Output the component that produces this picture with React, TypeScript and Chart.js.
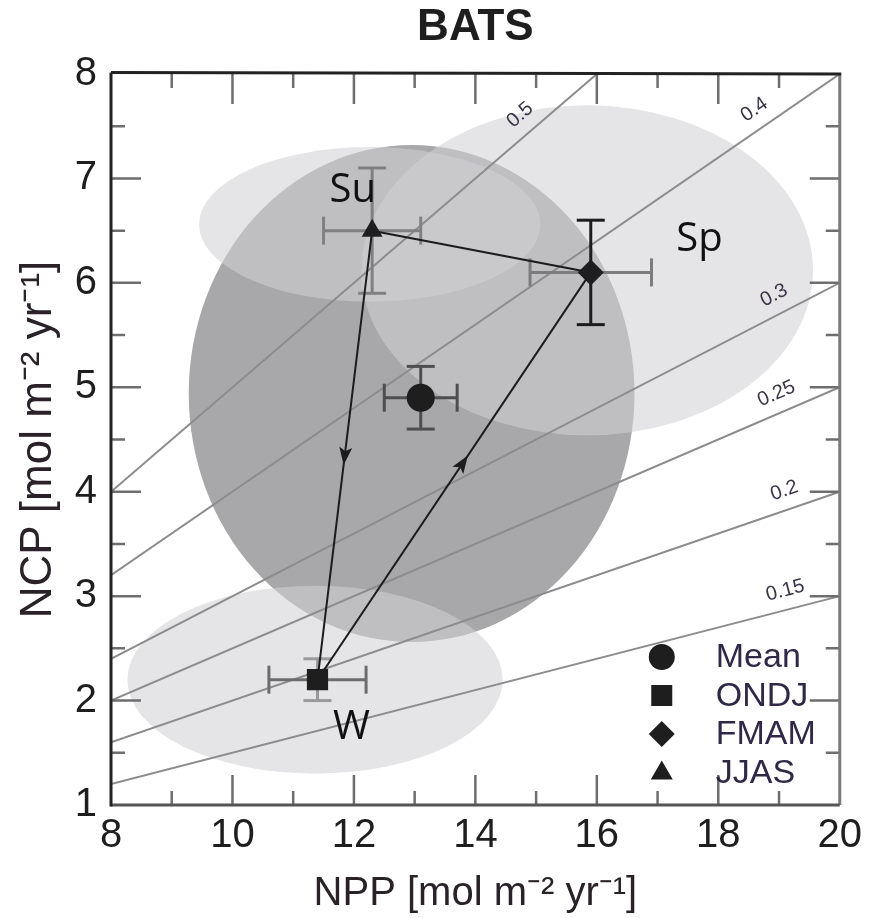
import React, { useEffect, useRef } from "react";
import { Chart, registerables } from "chart.js";

Chart.register(...registerables);

// ---------- data ----------
const seriesNames = ["Mean", "ONDJ", "FMAM", "JJAS"];
const nppValues = [13.1, 11.4, 15.9, 12.3];
const ncpValues = [4.9, 2.2, 6.1, 6.5];
const nppErrors = [0.6, 0.8, 1.0, 0.8];
const ncpErrors = [0.3, 0.2, 0.5, 0.6];
const pointStyles = ["circle", "rect", "rectRot", "triangle"];
// seasonal cycle: JJAS -> ONDJ -> FMAM -> JJAS (indices into the series)
const seasonalCycle = [3, 1, 2, 3];

const ratioValues = [0.5, 0.4, 0.3, 0.25, 0.2, 0.15];
const ratioLabels = ["0.5", "0.4", "0.3", "0.25", "0.2", "0.15"];
const ratioLabelNpp = [14.94, 18.77, 19.06, 19.08, 19.19, 19.18];

// shaded variability regions (centre and half-extent in data units)
const regionNames = ["Mean", "W", "Sp", "Su"];
const regionNpp = [12.95, 11.36, 15.84, 12.26];
const regionNcp = [4.94, 2.2, 6.12, 6.56];
const regionNppSpread = [3.67, 3.09, 3.72, 2.81];
const regionNcpSpread = [2.38, 0.9, 1.58, 0.74];

const regionLabelText = ["Su", "Sp", "W"];
const regionLabelNpp = [11.98, 17.69, 11.96];
const regionLabelNcp = [6.88, 6.41, 1.74];

const xMin = 8, xMax = 20, xStep = 2;
const yMin = 1, yMax = 8, yStep = 1;

// ---------- styles ----------
const FONT = "'Liberation Sans', Arial, Helvetica, sans-serif";
const LABEL_FONT = "'Open Sans', 'Liberation Sans', sans-serif";
const pointSizes = [14, 15, 13, 12];
const errColorX = ["#4e4e4e", "#6c6c6c", "#7c7c7c", "#808080"];
const errColorY = ["#4e4e4e", "#9a9a9a", "#1c1c1c", "#808080"];

const decorPlugin = {
  id: "decor",
  beforeDatasetsDraw(chart: any) {
    const { ctx, chartArea: a, scales } = chart;
    const x = scales.x, y = scales.y;
    ctx.save();
    ctx.beginPath();
    ctx.rect(a.left, a.top, a.right - a.left, a.bottom - a.top);
    ctx.clip();
    regionNames.forEach((_n, i) => {
      const cx = x.getPixelForValue(regionNpp[i]);
      const cy = y.getPixelForValue(regionNcp[i]);
      const rx = Math.abs(x.getPixelForValue(regionNpp[i] + regionNppSpread[i]) - cx);
      const ry = Math.abs(y.getPixelForValue(regionNcp[i] + regionNcpSpread[i]) - cy);
      ctx.beginPath();
      ctx.ellipse(cx, cy, rx, ry, 0, 0, Math.PI * 2);
      ctx.fillStyle = i === 0 ? "#a8a8ab" : "rgba(209,209,212,0.56)";
      ctx.fill();
    });
    ctx.restore();
  },
  beforeDatasetDraw(chart: any, args: any) {
    if (args.index !== ratioValues.length) return;
    const { ctx, scales } = chart;
    const x = scales.x, y = scales.y;
    ctx.save();
    ctx.lineWidth = 3;
    const cap = 14;
    const seg = (x0: number, y0: number, x1: number, y1: number) => {
      ctx.beginPath();
      ctx.moveTo(x0, y0);
      ctx.lineTo(x1, y1);
      ctx.stroke();
    };
    seriesNames.forEach((_s, i) => {
      const px = x.getPixelForValue(nppValues[i]);
      const py = y.getPixelForValue(ncpValues[i]);
      const xa = x.getPixelForValue(nppValues[i] - nppErrors[i]);
      const xb = x.getPixelForValue(nppValues[i] + nppErrors[i]);
      const ya = y.getPixelForValue(ncpValues[i] - ncpErrors[i]);
      const yb = y.getPixelForValue(ncpValues[i] + ncpErrors[i]);
      ctx.strokeStyle = errColorX[i];
      seg(xa, py, xb, py);
      seg(xa, py - cap, xa, py + cap);
      seg(xb, py - cap, xb, py + cap);
      ctx.strokeStyle = errColorY[i];
      seg(px, ya, px, yb);
      seg(px - cap, ya, px + cap, ya);
      seg(px - cap, yb, px + cap, yb);
    });
    ctx.restore();
  },
  afterDatasetDraw(chart: any, args: any) {
    if (args.index !== ratioValues.length) return;
    const { ctx, scales } = chart;
    const x = scales.x, y = scales.y;
    const arrowAt = [0.5, 0.53];
    ctx.save();
    ctx.fillStyle = "#1c1c1c";
    arrowAt.forEach((t, k) => {
      const a = seasonalCycle[k], b = seasonalCycle[k + 1];
      const ax = x.getPixelForValue(nppValues[a]), ay = y.getPixelForValue(ncpValues[a]);
      const bx = x.getPixelForValue(nppValues[b]), by = y.getPixelForValue(ncpValues[b]);
      const len = Math.hypot(bx - ax, by - ay);
      const dx = (bx - ax) / len, dy = (by - ay) / len;
      const mx = ax + (bx - ax) * t, my = ay + (by - ay) * t;
      const nx = -dy, ny = dx;
      ctx.beginPath();
      ctx.moveTo(mx + dx * 10, my + dy * 10);
      ctx.lineTo(mx - dx * 8 + nx * 6.5, my - dy * 8 + ny * 6.5);
      ctx.lineTo(mx - dx * 4, my - dy * 4);
      ctx.lineTo(mx - dx * 8 - nx * 6.5, my - dy * 8 - ny * 6.5);
      ctx.closePath();
      ctx.fill();
    });
    ctx.restore();
  },
  afterDatasetsDraw(chart: any) {
    const { ctx, scales } = chart;
    const x = scales.x, y = scales.y;
    ctx.save();
    // ratio labels
    ctx.font = `20px ${FONT}`;
    ctx.fillStyle = "#3b3347";
    ctx.textAlign = "center";
    ctx.textBaseline = "middle";
    ratioValues.forEach((r, i) => {
      const p0x = x.getPixelForValue(xMin), p0y = y.getPixelForValue(xMin * r);
      const p1x = x.getPixelForValue(xMax), p1y = y.getPixelForValue(xMax * r);
      const th = Math.atan2(p1y - p0y, p1x - p0x);
      const lx = x.getPixelForValue(ratioLabelNpp[i]);
      const ly = y.getPixelForValue(ratioLabelNpp[i] * r);
      const off = 19;
      const cx = lx + Math.sin(th) * off, cy = ly - Math.cos(th) * off;
      ctx.save();
      ctx.translate(cx, cy);
      ctx.rotate(th);
      ctx.fillText(ratioLabels[i], 0, 0);
      ctx.restore();
    });
    // region labels
    ctx.font = `40px ${LABEL_FONT}`;
    ctx.fillStyle = "#111";
    regionLabelText.forEach((t, i) => {
      ctx.fillText(t, x.getPixelForValue(regionLabelNpp[i]), y.getPixelForValue(regionLabelNcp[i]));
    });
    ctx.restore();
  },
  afterDraw(chart: any) {
    const { ctx, chartArea: a, scales } = chart;
    const x = scales.x, y = scales.y;
    ctx.save();
    // inward ticks
    ctx.lineWidth = 2.5;
    ctx.strokeStyle = "#6e6e6e";
    for (let v = xMin + 1; v < xMax; v += 1) {
      const px = x.getPixelForValue(v);
      const L = v % 2 === 0 ? 30 : 14;
      ctx.beginPath();
      ctx.moveTo(px, a.top); ctx.lineTo(px, a.top + L);
      ctx.moveTo(px, a.bottom); ctx.lineTo(px, a.bottom - L);
      ctx.stroke();
    }
    for (let v = yMin + 0.5; v < yMax; v += 0.5) {
      const py = y.getPixelForValue(v);
      const L = Number.isInteger(v) ? 30 : 14;
      ctx.beginPath();
      ctx.moveTo(a.left, py); ctx.lineTo(a.left + L, py);
      ctx.moveTo(a.right, py); ctx.lineTo(a.right - L, py);
      ctx.stroke();
    }
    // frame
    ctx.lineWidth = 3;
    const edge = (c: string, x0: number, y0: number, x1: number, y1: number) => {
      ctx.strokeStyle = c;
      ctx.beginPath(); ctx.moveTo(x0, y0); ctx.lineTo(x1, y1); ctx.stroke();
    };
    edge("#7a7a7a", a.right, a.top, a.right, a.bottom);
    edge("#555", a.left, a.bottom, a.right, a.bottom);
    edge("#222", a.left, a.top - 1.5, a.right + 1.5, a.top);
    edge("#222", a.left, a.top - 1.5, a.left, a.bottom + 1.5);
    // legend
    const mx = a.right - 178, tx = a.right - 124;
    ctx.font = `34px ${FONT}`;
    ctx.textAlign = "left";
    ctx.textBaseline = "middle";
    seriesNames.forEach((name, i) => {
      const cy = a.bottom - 148 + i * 38.5;
      ctx.fillStyle = "#1e1e1e";
      ctx.beginPath();
      const st = pointStyles[i];
      if (st === "circle") {
        ctx.arc(mx, cy, 13, 0, Math.PI * 2);
      } else if (st === "rect") {
        ctx.rect(mx - 10.5, cy - 10.5, 21, 21);
      } else if (st === "rectRot") {
        ctx.moveTo(mx, cy - 13); ctx.lineTo(mx + 13, cy); ctx.lineTo(mx, cy + 13); ctx.lineTo(mx - 13, cy);
        ctx.closePath();
      } else {
        ctx.moveTo(mx, cy - 12); ctx.lineTo(mx + 11, cy + 7); ctx.lineTo(mx - 11, cy + 7);
        ctx.closePath();
      }
      ctx.fill();
      ctx.fillStyle = "#302846";
      ctx.fillText(name, tx, cy + 1);
    });
    ctx.restore();
  },
};

export default function App() {
  const ref = useRef<HTMLCanvasElement>(null);
  useEffect(() => {
    const canvas = ref.current;
    if (!canvas) return;
    const ratioSets = ratioValues.map((r) => ({
      label: `ratio ${r}`,
      data: [
        { x: xMin, y: xMin * r },
        { x: xMax, y: xMax * r },
      ],
      showLine: true,
      borderColor: "#8c8c8c",
      borderWidth: 2,
      pointRadius: 0,
      order: 10,
    }));
    const pathSet = {
      label: "cycle",
      data: seasonalCycle.map((i) => ({ x: nppValues[i], y: ncpValues[i] })),
      showLine: true,
      borderColor: "#1c1c1c",
      borderWidth: 2,
      pointRadius: 0,
      order: 5,
    };
    const markerSets = seriesNames.map((name, i) => ({
      label: name,
      data: [{ x: nppValues[i], y: ncpValues[i] }],
      pointStyle: pointStyles[i],
      pointRadius: pointSizes[i],
      backgroundColor: "#1e1e1e",
      borderColor: "#1e1e1e",
      borderWidth: 0,
      order: 1,
    }));
    const chart = new Chart(canvas, {
      type: "scatter",
      data: { datasets: [...ratioSets, pathSet, ...markerSets] as any },
      options: {
        animation: false,
        responsive: false,
        events: [],
        layout: { padding: { left: 0, right: 25, top: 0, bottom: 0 } },
        plugins: {
          legend: { display: false },
          tooltip: { enabled: false },
          title: {
            display: true,
            text: "BATS",
            fullSize: false,
            color: "#1e1e1e",
            font: { family: FONT, size: 44, weight: "bold", lineHeight: 1 },
            padding: { top: 6, bottom: 24 },
          },
        },
        scales: {
          x: {
            type: "linear",
            min: xMin,
            max: xMax,
            grid: { display: false, drawTicks: false },
            border: { display: false },
            ticks: { stepSize: xStep, padding: 7, color: "#1e1e1e", font: { family: FONT, size: 40 } },
            title: {
              display: true,
              text: "NPP [mol m⁻² yr⁻¹]",
              color: "#2a2228",
              font: { family: FONT, size: 40 },
              padding: { top: 0, bottom: 0 },
            },
            afterFit: (s: any) => { s.height = 113; },
          },
          y: {
            type: "linear",
            min: yMin,
            max: yMax,
            grid: { display: false, drawTicks: false },
            border: { display: false },
            ticks: { stepSize: yStep, padding: 14, color: "#1e1e1e", font: { family: FONT, size: 40 } },
            title: {
              display: true,
              text: "NCP [mol m⁻² yr⁻¹]",
              color: "#2a2228",
              font: { family: FONT, size: 44 },
              padding: { top: 12, bottom: 0 },
            },
            afterFit: (s: any) => { s.width = 111; },
          },
        },
      } as any,
      plugins: [decorPlugin],
    });
    return () => chart.destroy();
  }, []);
  return (
    <div style={{ position: "absolute", left: 0, top: 0, width: 869, height: 918, background: "#fff" }}>
      <canvas ref={ref} width={869} height={918} style={{ display: "block", width: 869, height: 918 }} />
    </div>
  );
}
